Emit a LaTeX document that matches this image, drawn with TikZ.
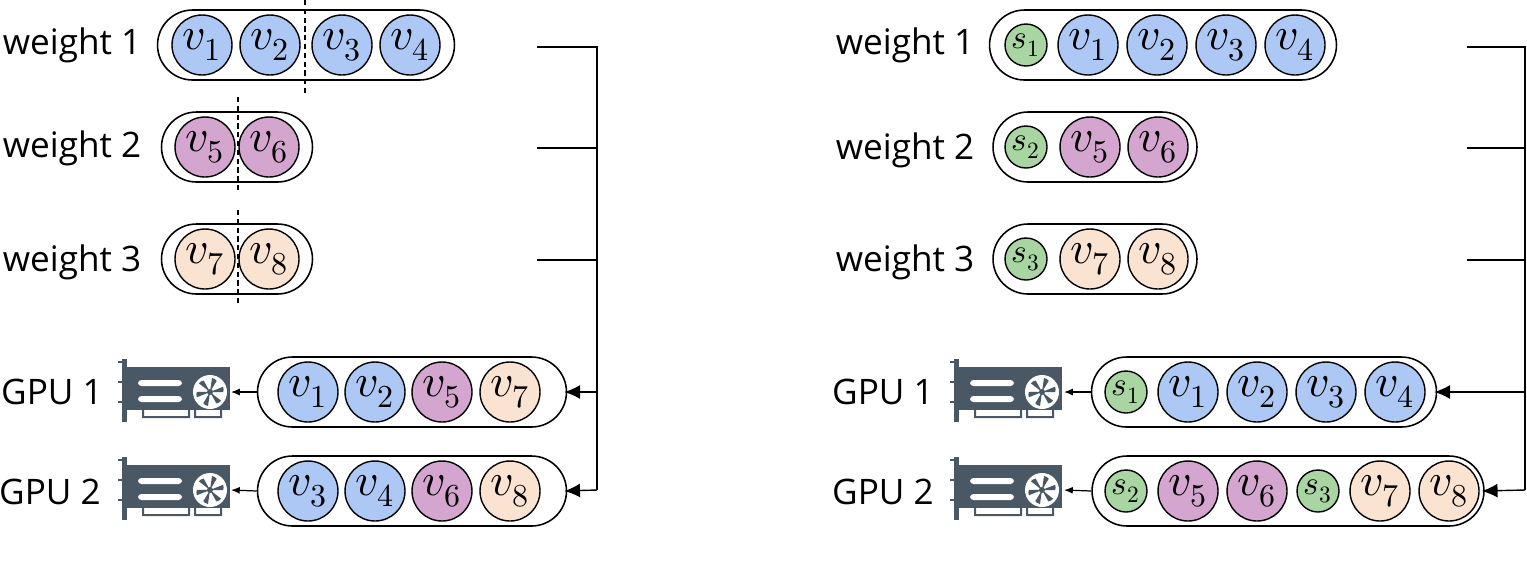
\documentclass[tikz,border=0pt]{standalone}
\usepackage{fontspec}
\setmainfont{Open Sans}
\usepackage{unicode-math}
\setmathfont{Latin Modern Math}
\usetikzlibrary{arrows.meta}
\definecolor{cb}{HTML}{AEC8F5}
\definecolor{cp}{HTML}{D4A6CF}
\definecolor{co}{HTML}{FBE3D2}
\definecolor{cg}{HTML}{A8D5A2}
\definecolor{gpu}{HTML}{4A5866}
\tikzset{
 x=0.02cm,y=-0.02cm,
 lab/.style={font=\fontsize{20}{24}\selectfont,inner sep=0},
 v/.style={circle,draw,line width=0.8pt,minimum size=1.2cm,inner sep=0,font=\fontsize{26}{28}\selectfont},
 s/.style={circle,draw,line width=0.8pt,minimum size=0.84cm,inner sep=0,font=\fontsize{19}{22}\selectfont},
 pill/.style={draw,line width=0.9pt,rounded corners=0.7cm,minimum height=1.4cm,inner sep=0},
 br/.style={line width=0.8pt},
 sa/.style={-{Latex[length=5pt,width=4pt]},line width=0.7pt},
 ba/.style={-{Latex[length=9pt,width=8pt]},line width=0.8pt},
 dsh/.style={dashed,line width=0.6pt,dash pattern=on 3pt off 2pt},
 gpuicon/.pic={
  \fill[gpu] (-54,-33) rectangle (-49,30);
  \fill[gpu] (-58,-31) rectangle (-49,-29);
  \fill[gpu] (-58,-11) rectangle (-49,-9);
  \fill[gpu] (-58,9) rectangle (-49,11);
  \fill[gpu] (-49,-25) rectangle (54,18);
  \fill[gpu] (-34,18) rectangle (-32,26) (-34,24) rectangle (14,26) (12,18) rectangle (14,26)
             (18,18) rectangle (20,26) (18,24) rectangle (46,26) (44,18) rectangle (46,26);
  \fill[white,rounded corners=2pt] (-38,-12) rectangle (6,-6) (-38,4) rectangle (6,10);
  \fill[white] (34,0) circle (17);
  \foreach \a in {0,60,...,300}{\fill[gpu,rotate around={\a:(34,0)}] (34,0) -- (36,-14) arc (-80:-40:8) -- cycle;}
  \fill[gpu] (34,0) circle (3);
 }
}
\begin{document}
\begin{tikzpicture}
\useasboundingbox (0,0) rectangle (1527,583);
% ---------- left ----------
\node[lab] (lw1) at (72,45) {weight 1};
\node[lab] (lw2) at (72,148) {weight 2};
\node[lab] (lw3) at (72,262) {weight 3};
\node[pill,minimum width=5.94cm] (lp1) at (306,45) {};
\node[v,fill=cb] (a1) at (202,45) {$v_1$};
\node[v,fill=cb] (a2) at (270,45) {$v_2$};
\node[v,fill=cb] (a3) at (342,45) {$v_3$};
\node[v,fill=cb] (a4) at (410,45) {$v_4$};
\draw[dsh] (305,0) -- (305,95);
\node[pill,minimum width=3.02cm] (lp2) at (237,147) {};
\node[v,fill=cp] (a5) at (205,147) {$v_5$};
\node[v,fill=cp] (a6) at (269,147) {$v_6$};
\draw[dsh] (238,97) -- (238,190);
\node[pill,minimum width=3.02cm] (lp3) at (237,259) {};
\node[v,fill=co] (a7) at (205,259) {$v_7$};
\node[v,fill=co] (a8) at (269,259) {$v_8$};
\draw[dsh] (238,210) -- (238,305);
\node[lab] (lg1) at (52,392) {GPU 1};
\node[lab] (lg2) at (50,492) {GPU 2};
\pic (li1) at (176,392) {gpuicon};
\pic (li2) at (176,490) {gpuicon};
\coordinate (lgi1) at (231,392);
\coordinate (lgi2) at (231,490);
\node[pill,minimum width=6.18cm] (lq1) at (412,392) {};
\node[v,fill=cb] at (308,392) {$v_1$};
\node[v,fill=cb] at (375,392) {$v_2$};
\node[v,fill=cp] at (442,392) {$v_5$};
\node[v,fill=co] at (510,392) {$v_7$};
\node[pill,minimum width=6.18cm] (lq2) at (412,491) {};
\node[v,fill=cb] at (308,491) {$v_3$};
\node[v,fill=cb] at (375,491) {$v_4$};
\node[v,fill=cp] at (442,491) {$v_6$};
\node[v,fill=co] at (510,491) {$v_8$};
\draw[sa] (lq1.west) -- (lgi1);
\draw[sa] (lq2.west) -- (lgi2);
\coordinate (lb1) at (537,47); \coordinate (lb2) at (537,148); \coordinate (lb3) at (537,260);
\coordinate (lt) at (597,47); \coordinate (lm1) at (597,392); \coordinate (lm2) at (597,490);
\draw[br] (lb1) -- (lt) -- (lm2);
\draw[br] (lb2) -- (597,148);
\draw[br] (lb3) -- (597,260);
\draw[ba] (lm1) -- ([xshift=-0.06cm]lq1.east);
\draw[ba] (lm2) -- ([xshift=-0.06cm]lq2.east);
% ---------- right ----------
\node[lab] (rw1) at (905,45) {weight 1};
\node[lab] (rw2) at (905,150) {weight 2};
\node[lab] (rw3) at (905,262) {weight 3};
\node[pill,minimum width=6.94cm] (rp1) at (1163,45) {};
\node[s,fill=cg] at (1026,45) {$s_1$};
\node[v,fill=cb] at (1088,45) {$v_1$};
\node[v,fill=cb] at (1157,45) {$v_2$};
\node[v,fill=cb] at (1226,45) {$v_3$};
\node[v,fill=cb] at (1295,45) {$v_4$};
\node[pill,minimum width=4.08cm] (rp2) at (1095,147) {};
\node[s,fill=cg] at (1026,147) {$s_2$};
\node[v,fill=cp] at (1090,147) {$v_5$};
\node[v,fill=cp] at (1158,147) {$v_6$};
\node[pill,minimum width=4.08cm] (rp3) at (1095,259) {};
\node[s,fill=cg] at (1026,259) {$s_3$};
\node[v,fill=co] at (1090,259) {$v_7$};
\node[v,fill=co] at (1158,259) {$v_8$};
\node[lab] (rg1) at (883,392) {GPU 1};
\node[lab] (rg2) at (883,492) {GPU 2};
\pic (ri1) at (1008,392) {gpuicon};
\pic (ri2) at (1008,490) {gpuicon};
\coordinate (rgi1) at (1064,392);
\coordinate (rgi2) at (1064,490);
\node[pill,minimum width=6.9cm] (rq1) at (1264,392) {};
\node[s,fill=cg] at (1126,392) {$s_1$};
\node[v,fill=cb] at (1188,392) {$v_1$};
\node[v,fill=cb] at (1257,392) {$v_2$};
\node[v,fill=cb] at (1326,392) {$v_3$};
\node[v,fill=cb] at (1395,392) {$v_4$};
\node[pill,minimum width=7.84cm] (rq2) at (1288,491) {};
\node[s,fill=cg] at (1126,491) {$s_2$};
\node[v,fill=cp] at (1188,491) {$v_5$};
\node[v,fill=cp] at (1257,491) {$v_6$};
\node[s,fill=cg] at (1318,491) {$s_3$};
\node[v,fill=co] at (1380,491) {$v_7$};
\node[v,fill=co] at (1449,491) {$v_8$};
\draw[sa] (rq1.west) -- (rgi1);
\draw[sa] (rq2.west) -- (rgi2);
\coordinate (rb1) at (1467,47); \coordinate (rb2) at (1467,148); \coordinate (rb3) at (1467,260);
\coordinate (rt) at (1525,47); \coordinate (rm1) at (1525,392); \coordinate (rm2) at (1525,490);
\draw[br] (rb1) -- (rt) -- (rm2);
\draw[br] (rb2) -- (1525,148);
\draw[br] (rb3) -- (1525,260);
\draw[ba] (rm1) -- ([xshift=-0.06cm]rq1.east);
\draw[ba] (rm2) -- ([xshift=-0.06cm]rq2.east);
\end{tikzpicture}
\end{document}
